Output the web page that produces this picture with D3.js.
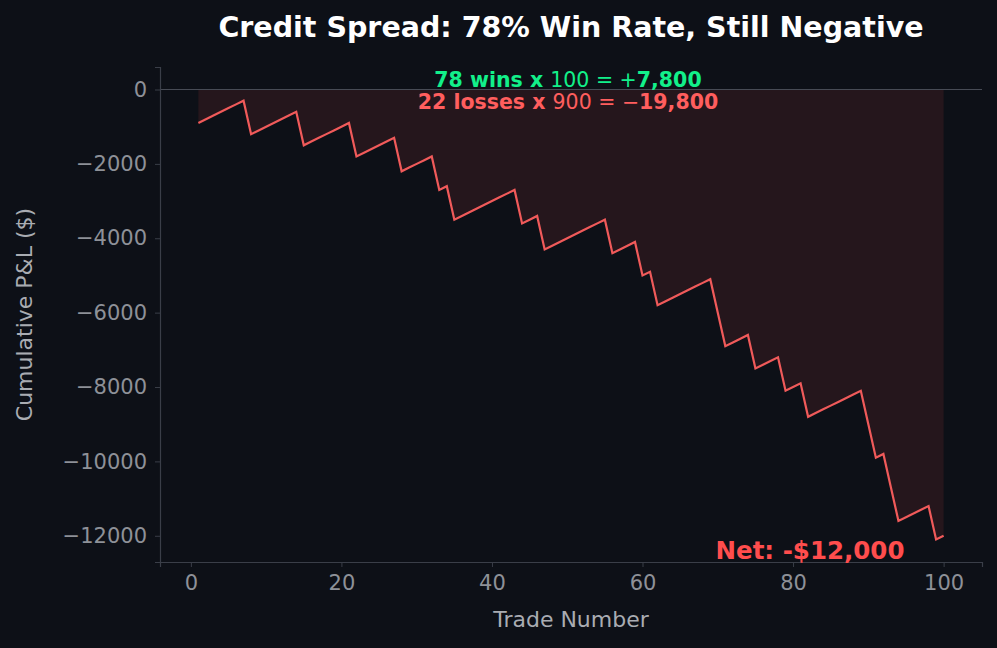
<!DOCTYPE html>
<html><head><meta charset="utf-8">
<script src="https://cdn.jsdelivr.net/npm/d3@7"></script>
<style>
body{margin:0;background:#0d1017;}
text{font-family:"DejaVu Sans",sans-serif;}
</style></head>
<body><div id="chart"></div>
<script>
// trade numbers that were losses (-900), all others wins (+100)
const lossTrades = [1, 8, 15, 22, 28, 33, 35, 44, 47, 56, 60, 62, 70, 71, 75, 79, 82, 90, 91, 93, 94, 99];
const winAmount = 100;
const lossAmount = -900;
const xTicks = [0, 20, 40, 60, 80, 100];
const yTicks = [0, -2000, -4000, -6000, -8000, -10000, -12000];

const trades = d3.range(1, 101).map((n) => ({ n: n, pnl: lossTrades.includes(n) ? lossAmount : winAmount }));
let run = 0;
trades.forEach((d) => { run += d.pnl; d.cum = run; });

const W = 997, H = 648;
const margin = { top: 67, left: 160, right: 15, bottom: 86 };
const width = W - margin.left - margin.right;
const height = H - margin.top - margin.bottom;

const svg = d3.select('#chart').append('svg')
  .attr('width', W).attr('height', H)
  .style('background', '#0d1017');

const g = svg.append('g').attr('transform', 'translate(' + margin.left + ',' + margin.top + ')');

const x = d3.scaleLinear().domain([-4.1, 105.1]).range([0, width]);
const y = d3.scaleLinear().domain([-12705, 605]).range([height, 0]);

// fill between zero and curve
const area = d3.area().x((d) => x(d.n)).y0(y(0)).y1((d) => y(d.cum));
g.append('path').datum(trades).attr('d', area).attr('fill', '#ff5252').attr('opacity', 0.1);

g.append('line').attr('x1', 0).attr('x2', width).attr('y1', y(0)).attr('y2', y(0))
  .attr('stroke', '#474b55').attr('stroke-width', 1.2);

const line = d3.line().x((d) => x(d.n)).y((d) => y(d.cum));
g.append('path').datum(trades).attr('d', line).attr('fill', 'none')
  .attr('stroke', '#f05a5a').attr('stroke-width', 2.2);

// axes
const xAxis = g.append('g').attr('transform', 'translate(0,' + height + ')')
  .call(d3.axisBottom(x).tickValues(xTicks).tickSize(5).tickPadding(8));
const yAxis = g.append('g')
  .call(d3.axisLeft(y).tickValues(yTicks).tickSize(5).tickPadding(8).tickFormat((d) => d < 0 ? '\u2212' + Math.abs(d) : d));
[xAxis, yAxis].forEach((a) => {
  a.select('.domain').attr('stroke', '#3a3e48').attr('stroke-width', 1.2);
  a.selectAll('.tick line').attr('stroke', '#3a3e48');
  a.selectAll('.tick text').attr('fill', '#8e9198').attr('font-size', 21).attr('font-family', 'DejaVu Sans');
});

svg.append('text').attr('x', margin.left + width / 2).attr('y', 627)
  .attr('text-anchor', 'middle').attr('fill', '#a9acb2').attr('font-size', 22).text('Trade Number');
svg.append('text').attr('transform', 'translate(32,' + (margin.top + height / 2) + ') rotate(-90)')
  .attr('text-anchor', 'middle').attr('fill', '#a9acb2').attr('font-size', 22).text('Cumulative P&L ($)');

svg.append('text').attr('x', 571).attr('y', 37).attr('text-anchor', 'middle')
  .attr('fill', '#ffffff').attr('font-size', 28.5).attr('font-weight', 'bold')
  .text('Credit Spread: 78% Win Rate, Still Negative');

function eq(yPos, color, parts) {
  const t = svg.append('text').attr('x', 568).attr('y', yPos).attr('text-anchor', 'middle')
    .attr('fill', color).attr('font-size', 20.5);
  parts.forEach((p) => t.append('tspan').attr('font-weight', p[1] ? 'bold' : 'normal').text(p[0]));
}
eq(87, '#12f08a', [['78 wins x ', true], ['100 = +', false], ['7,800', true]]);
eq(109, '#ff5e5e', [['22 losses x ', true], ['900 = \u2212', false], ['19,800', true]]);

svg.append('text').attr('x', 810).attr('y', 559).attr('text-anchor', 'middle')
  .attr('fill', '#ff4d4d').attr('font-size', 24.5).attr('font-weight', 'bold').text('Net: -$12,000');
</script></body></html>
